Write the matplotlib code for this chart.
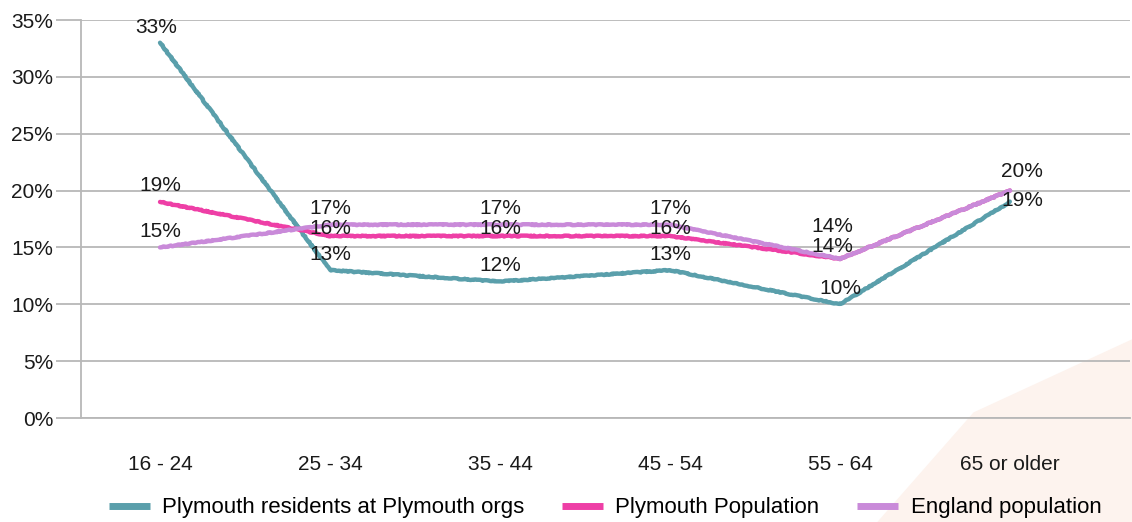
import numpy as np
import matplotlib
matplotlib.use("Agg")
from matplotlib import pyplot as plt
from matplotlib.patches import Polygon

plt.rcParams['font.family'] = ['Liberation Sans', 'DejaVu Sans']

ages = ["16 - 24", "25 - 34", "35 - 44", "45 - 54", "55 - 64", "65 or older"]
residents = [33, 13, 12, 13, 10, 19]
plymouth = [19, 16, 16, 16, 14, 20]
england = [15, 17, 17, 17, 14, 20]

names = ["Plymouth residents at Plymouth orgs", "Plymouth Population", "England population"]
colours = ["#5a9fab", "#ee3fa6", "#c98ad9"]

fig = plt.figure(figsize=(11.32, 5.22), dpi=100)

# faint brush stroke in the lower right corner
bg = fig.add_axes([0, 0, 1, 1], zorder=-5)
bg.axis("off")
bg.set_xlim(0, 1)
bg.set_ylim(0, 1)
bg.add_patch(Polygon([[0.775, 0.0], [0.86, 0.21], [1.0, 0.35], [1.0, 0.0]],
                     closed=True, fc="#fdf3ee", ec="none"))

ax = fig.add_axes([81/1132, 104/522, 1049/1132, 398/522])
ax.patch.set_alpha(0)
x = np.arange(len(ages))

series = [residents, plymouth, england]
for vals, name, c in zip(series, names, colours):
    ln, = ax.plot(x, vals, color=c, lw=3.2, label=name, solid_capstyle="round",
                  solid_joinstyle="round", zorder=3)
    ln.set_sketch_params(scale=0.45, length=8, randomness=16)

# label offsets in pixels (dx, dy); default sits just above the point
offsets = {
    (1, 1): (0, 8), (1, 2): (0, 8), (1, 3): (0, 8),
    (1, 4): (-8, 12), (2, 4): (-8, 32),
    (0, 5): (12, 1), (2, 5): (12, 19),
    (0, 0): (-4, 15),
}
# the Plymouth value at the right end sits under the England label
skip = {(1, 5)}
for s, vals in enumerate(series):
    for i, v in enumerate(vals):
        if (s, i) in skip:
            continue
        dx, dy = offsets.get((s, i), (0, 16))
        ax.annotate(f"{v:.0f}%", (x[i], v), xytext=(dx, dy), textcoords="offset pixels",
                    ha="center", va="center", fontsize=15, color="#1a1a1a",
                    zorder=5, annotation_clip=False)

ax.set_ylim(0, 35)
ax.set_xlim(-0.465, 5.706)
ax.set_yticks(np.arange(0, 36, 5))
ax.set_yticklabels([f"{t}%" for t in range(0, 36, 5)], fontsize=15)
ax.set_xticks(x)
ax.set_xticklabels(ages, fontsize=15)
ax.tick_params(axis="y", length=18, width=1.3, color="#b8b8b8", pad=2, labelcolor="#1a1a1a")
ax.tick_params(axis="x", length=0, pad=27, labelcolor="#1a1a1a")
ax.grid(axis="y", color="#b8b8b8", lw=1.3, zorder=0)
ax.set_axisbelow(True)
for side in ["top", "right"]:
    ax.spines[side].set_visible(False)
for side in ["left", "bottom"]:
    ax.spines[side].set_color("#b8b8b8")
    ax.spines[side].set_linewidth(1.3)

leg = fig.legend(loc="center", bbox_to_anchor=(605/1132, 1 - 508/522), ncol=3, frameon=False,
                 prop={"size": 16}, handlelength=1.85, handletextpad=0.55, columnspacing=1.7)
for h in leg.legend_handles:
    h.set_linewidth(5)
    h.set_sketch_params(None)
    h.set_solid_capstyle("butt")

fig.savefig("out.png", dpi=100)
